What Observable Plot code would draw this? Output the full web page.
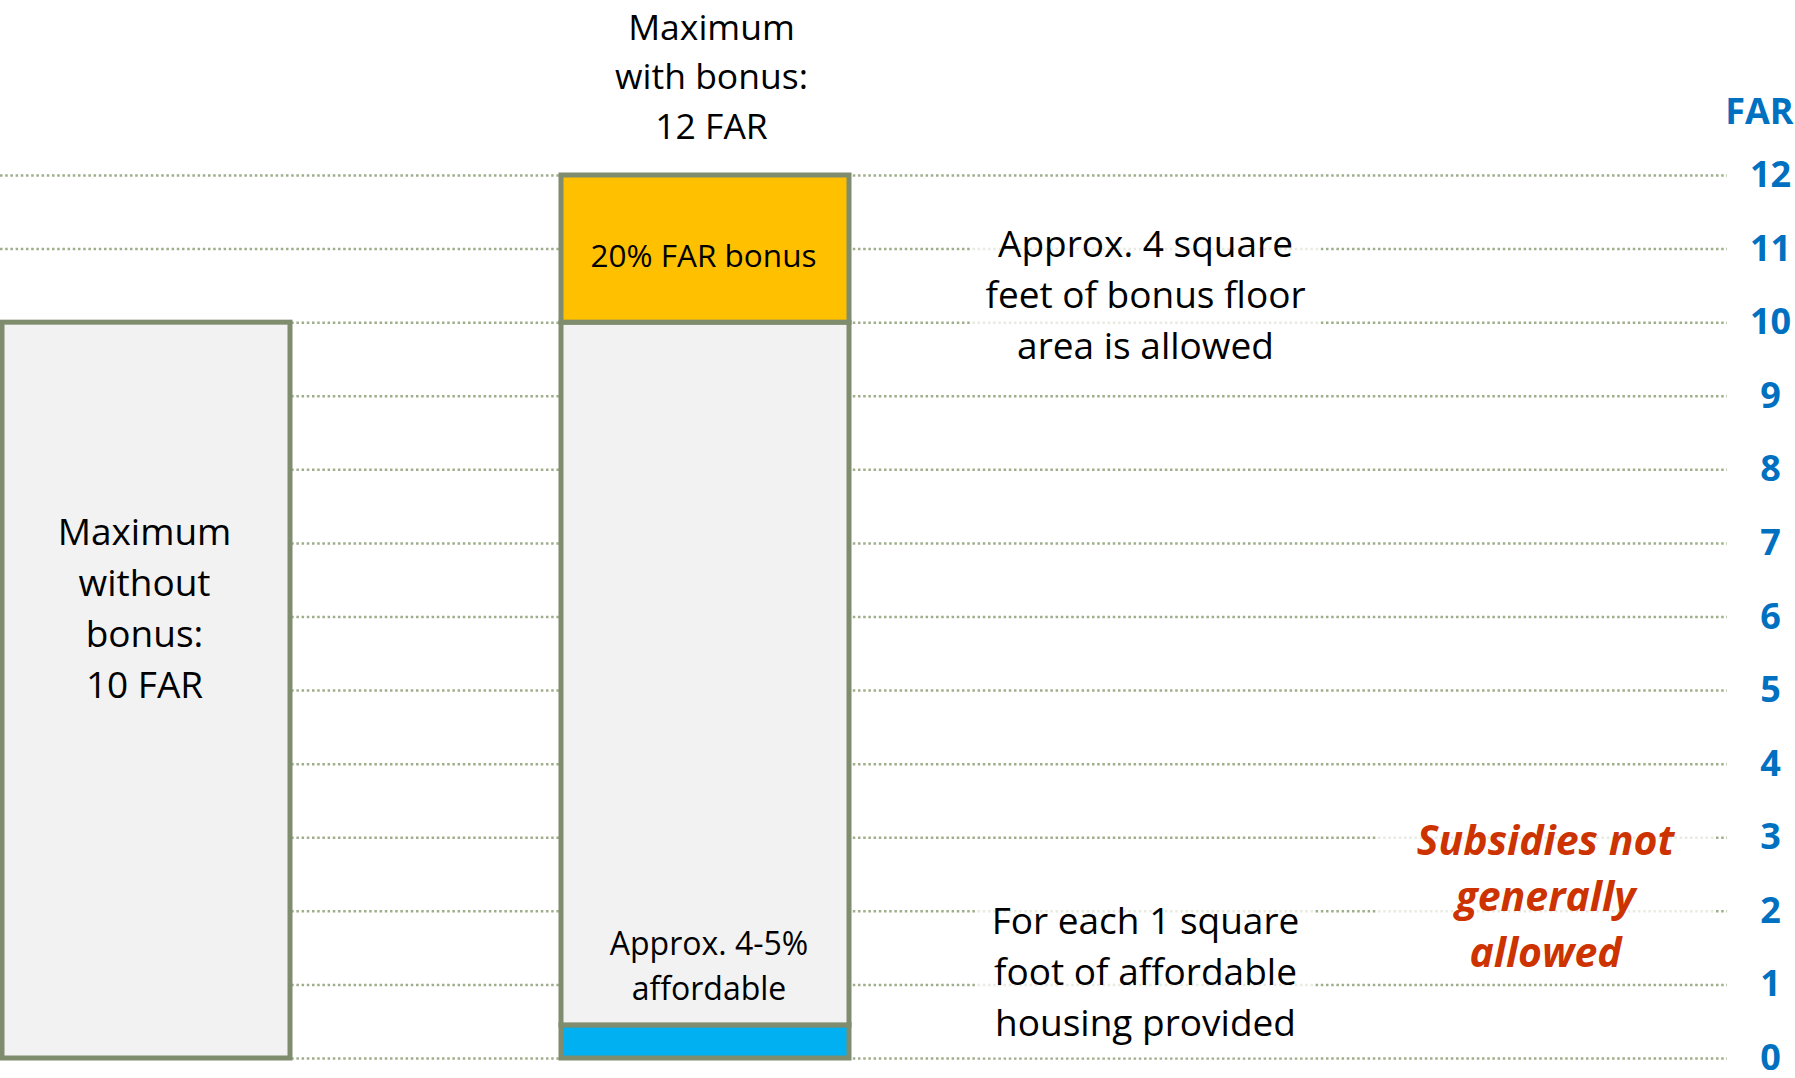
<!DOCTYPE html>
<html>
<head>
<meta charset="utf-8">
<script src="https://cdn.jsdelivr.net/npm/d3@7"></script>
<script src="https://cdn.jsdelivr.net/npm/@observablehq/plot@0.6"></script>
<style>
  html, body { margin: 0; padding: 0; background: #ffffff; overflow: hidden; }
  svg { display: block; }
</style>
</head>
<body>
<script>
// ---- Data ----
const farTicks = [0, 1, 2, 3, 4, 5, 6, 7, 8, 9, 10, 11, 12];
const bars = ["Maximum without bonus", "Maximum with bonus"];
const segments = ["Affordable housing", "Base floor area", "Bonus floor area"];
const withoutBonusValues = [0, 10, 0];
const withBonusValues = [0.45, 9.55, 2];
const segmentColors = ["#00B0F0", "#F2F2F2", "#FFC000"];

const seriesByBar = [withoutBonusValues, withBonusValues];
const rows = bars.flatMap((bar, i) =>
  segments.map((segment, j) => ({ bar, segment, value: seriesByBar[i][j] }))
).filter(d => d.value > 0);

const font = "'Open Sans', 'Noto Sans', sans-serif";
const one = [0];

const chart = Plot.plot({
  width: 1795,
  height: 1078,
  marginTop: 175,
  marginBottom: 20,
  marginLeft: 0,
  marginRight: 68,
  style: { fontFamily: font, background: "#ffffff", overflow: "visible" },
  x: { type: "band", domain: bars, range: [1.5, 849.5], paddingInner: 0.4848, paddingOuter: 0, axis: null },
  y: { domain: [0, 12], axis: null },
  color: { domain: segments, range: segmentColors },
  marks: [
    // dotted gridlines
    Plot.ruleY(farTicks, { y: d => d, stroke: "#9FAE8A", strokeWidth: 2.5, strokeDasharray: "2.5,2.7" }),
    // bars
    Plot.barY(rows, { x: "bar", y: "value", fill: "segment", stroke: "#7F8C6E", strokeWidth: 5 }),
    // bar labels
    Plot.text(one, { x: () => bars[0], y: () => 4.9, dx: -2, text: () => "Maximum\nwithout\nbonus:\n10 FAR",
      lineAnchor: "bottom", fontSize: 37, lineHeight: 51 / 37, fill: "#000000" }),
    Plot.text(one, { x: () => bars[1], y: () => 12.5, dx: 6, text: () => "Maximum\nwith bonus:\n12 FAR",
      lineAnchor: "bottom", fontSize: 35.5, lineHeight: 49.5 / 35.5, fill: "#000000" }),
    Plot.text(one, { x: () => bars[1], y: () => 11, dx: -2, dy: 8, text: () => "20% FAR bonus",
      lineAnchor: "middle", fontSize: 31.5, fill: "#000000" }),
    Plot.text(one, { x: () => bars[1], y: () => 0.8, dx: 3.5, text: () => "Approx. 4-5%\naffordable",
      lineAnchor: "bottom", fontSize: 32, lineHeight: 45 / 32, fill: "#000000" }),
    // annotations
    Plot.text(one, { y: () => 9.5, frameAnchor: "left", dx: 1145, textAnchor: "middle",
      text: () => "Approx. 4 square\nfeet of bonus floor\narea is allowed",
      lineAnchor: "bottom", fontSize: 37, lineHeight: 51 / 37, fill: "#000000", className: "fade-note" }),
    Plot.text(one, { y: () => 0.3, frameAnchor: "left", dx: 1145, textAnchor: "middle",
      text: () => "For each 1 square\nfoot of affordable\nhousing provided",
      lineAnchor: "bottom", fontSize: 37, lineHeight: 51 / 37, fill: "#000000", className: "fade-note" }),
    Plot.text(one, { y: () => 1.25, frameAnchor: "left", dx: 1545, textAnchor: "middle",
      text: () => "Subsidies not\ngenerally\nallowed",
      lineAnchor: "bottom", fontSize: 41, lineHeight: 56 / 41, fontWeight: "bold", fontStyle: "italic",
      fill: "#CC3300", className: "fade-wide" }),
    // FAR axis labels
    Plot.text(farTicks, { y: d => d, text: d => String(d), frameAnchor: "right", dx: 43, textAnchor: "middle",
      lineAnchor: "middle", fontSize: 36, fontWeight: "bold", fill: "#0070C0" }),
    Plot.text(one, { y: () => 12.7, frameAnchor: "right", dx: 66, textAnchor: "end", text: () => "FAR",
      lineAnchor: "bottom", fontSize: 36, fontWeight: "bold", fill: "#0070C0" })
  ]
});

document.body.append(chart);

// semi-transparent white boxes behind annotation texts (fading the gridlines)
function fadeBehind(cls, padX, padY) {
  chart.querySelectorAll("g." + cls + " text").forEach(t => {
    const b = t.getBBox();
    const r = document.createElementNS("http://www.w3.org/2000/svg", "rect");
    r.setAttribute("x", b.x - padX);
    r.setAttribute("y", b.y - padY);
    r.setAttribute("width", b.width + 2 * padX);
    r.setAttribute("height", b.height + 2 * padY);
    r.setAttribute("fill", "#ffffff");
    r.setAttribute("fill-opacity", "0.75");
    const tr = t.getAttribute("transform");
    if (tr) r.setAttribute("transform", tr);
    t.parentNode.insertBefore(r, t);
  });
}
fadeBehind("fade-note", 15, 10);
fadeBehind("fade-wide", 40, 4);
</script>
</body>
</html>
